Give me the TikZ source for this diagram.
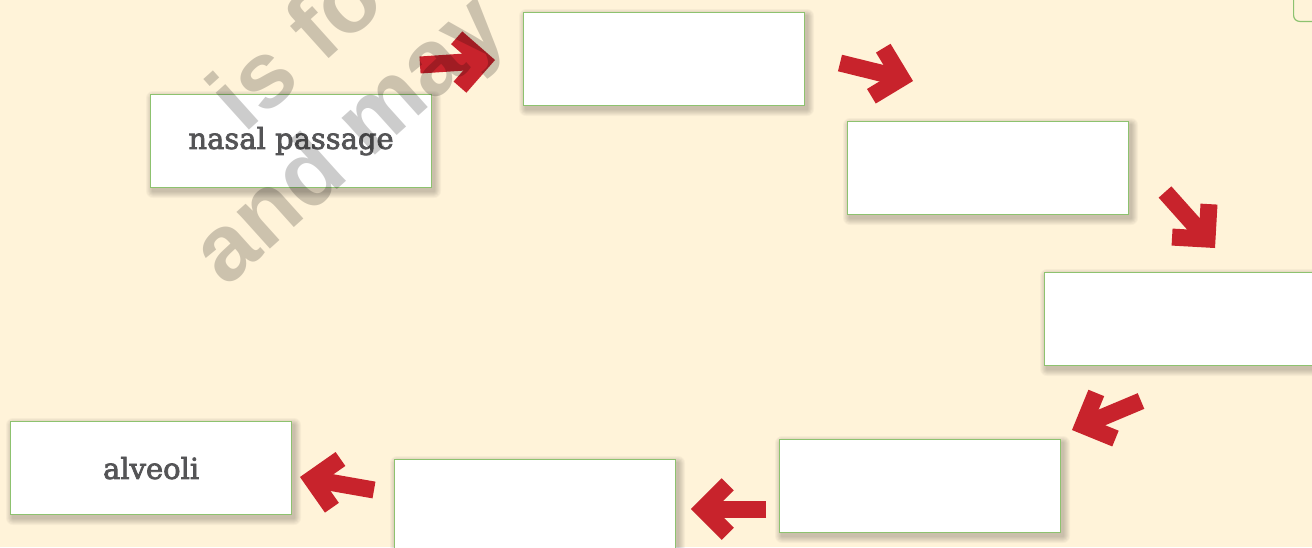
\documentclass[tikz,border=0pt]{standalone}
\usepackage{fontspec}
\setmainfont{DejaVu Serif}
\newfontfamily\labelfont[FakeBold=2.5]{DejaVu Serif}
\newfontfamily\wmfont{Liberation Sans}
\usetikzlibrary{calc}
\definecolor{bgcream}{HTML}{FFF3D9}
\definecolor{boxgreen}{HTML}{8DC26F}
\definecolor{arrowred}{HTML}{C8232C}
\definecolor{labelgray}{HTML}{545456}
\tikzset{
  shadowlayer/.style={fill=black, fill opacity=0.03},
  stepbox/.style={draw=boxgreen, line width=1.2pt, fill=white,
    minimum width=281pt, minimum height=93pt, inner sep=0pt, anchor=north west,
    text=labelgray, font=\labelfont\fontsize{29}{29}\selectfont},
  redline/.style={draw=arrowred, line width=17pt, line join=miter, miter limit=10},
  watermark/.style={font=\wmfont\bfseries\fontsize{94}{94}\selectfont,
    text=black, text opacity=0.2, rotate=42, inner sep=0pt}
}
\newcommand{\boxwithshadow}[4]{% name, x, y, text
  \foreach \kk in {1,...,7}{%
    \fill[shadowlayer, rounded corners=\kk pt] (#2+3-\kk, #3+4-\kk) rectangle ++(281+2*\kk, 93+2*\kk);
  }
  \node[stepbox] (#1) at (#2,#3) {#4};
}
\newcommand{\blockarrow}[3]{% name, tail, tip
  \coordinate (#1v) at ($(#3)!12pt!(#2)$);
  \draw[redline] (#2) -- (#1v);
  \draw[redline] ($(#1v)!35pt!45:(#2)$) -- (#1v) -- ($(#1v)!35pt!-45:(#2)$);
}
\begin{document}
\begin{tikzpicture}[x=1pt,y=-1pt]
\useasboundingbox (0,0) rectangle (1312,547);
\clip (0,0) rectangle (1312,547);
\fill[bgcream] (0,0) rectangle (1312,547);
\node[draw=boxgreen, line width=1.2pt, rounded corners=6pt, minimum width=60pt, minimum height=40pt, anchor=south west] (corner) at (1293,22) {};

\boxwithshadow{b1}{150}{94}{nasal passage}
\boxwithshadow{b2}{523}{12}{}
\boxwithshadow{b3}{847}{121}{}
\boxwithshadow{b4}{1044}{272}{}
\boxwithshadow{b5}{779}{439}{}
\boxwithshadow{b6}{394}{459}{}
\boxwithshadow{b7}{10}{421}{alveoli}

\coordinate (a1t) at (420,65);   \coordinate (a1h) at (495,60);
\coordinate (a2t) at (840,63);   \coordinate (a2h) at (913,81);
\coordinate (a3t) at (1165,192); \coordinate (a3h) at (1215,248);
\coordinate (a4t) at (1141,401); \coordinate (a4h) at (1072,430);
\coordinate (a5t) at (766,509);  \coordinate (a5h) at (691,509);
\coordinate (a6t) at (374,490);  \coordinate (a6h) at (300,477);
\blockarrow{a1}{a1t}{a1h}
\blockarrow{a2}{a2t}{a2h}
\blockarrow{a3}{a3t}{a3h}
\blockarrow{a4}{a4t}{a4h}
\blockarrow{a5}{a5t}{a5h}
\blockarrow{a6}{a6t}{a6h}

\node[watermark] (wm2) at (352,143) {and may};
\node[watermark, anchor=west] (wm1) at (222,110) {is fo};
\end{tikzpicture}
\end{document}
